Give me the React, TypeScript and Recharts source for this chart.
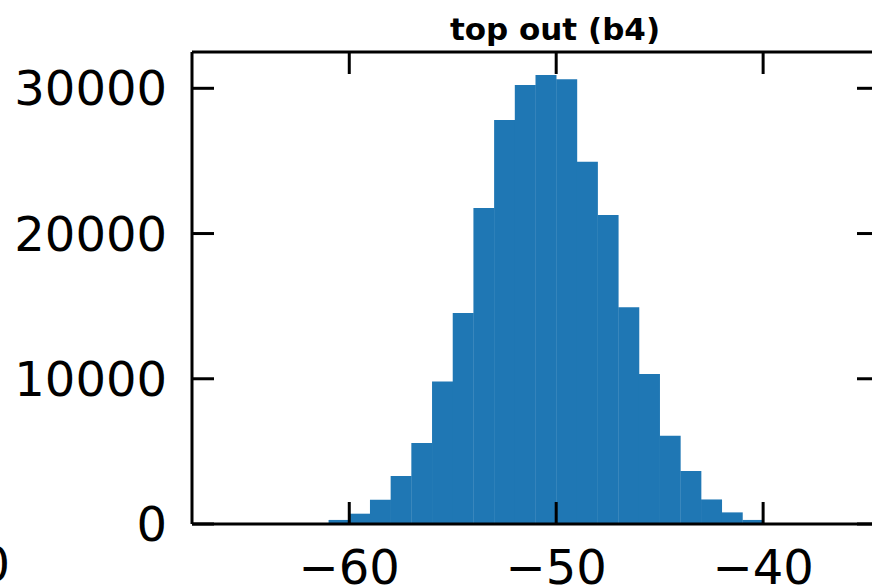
import { BarChart, Bar, XAxis, YAxis } from "recharts";

// histogram bins (1 unit wide), centre of each bin
const binCenters = [
    -60.5, -59.5, -58.5, -57.5, -56.5, -55.5, -54.5, -53.5, -52.5, -51.5, -50.5,
    -49.5, -48.5, -47.5, -46.5, -45.5, -44.5, -43.5, -42.5, -41.5, -40.5,
];
const counts = [
    280, 710, 1670, 3300, 5570, 9810, 14520, 21750, 27820, 30230, 30920,
    30630, 24950, 21270, 14930, 10320, 6080, 3650, 1690, 800, 280,
];
const xTicks = [-60, -50, -40];
const yTicks = [0, 10000, 20000, 30000];
const title = "top out (b4)";

const data = binCenters.map((center, i) => ({ center, count: counts[i] }));

const FONT = "'DejaVu Sans', sans-serif";
const BLUE = "#1f77b4";

function formatX(value: number) {
    return value < 0 ? `\u2212${Math.abs(value)}` : `${value}`;
}

const blank = () => "";

export default function App() {
    const tickStyle = { fontSize: 48, fill: "#000", fontFamily: FONT };
    const lineStyle = { stroke: "#000", strokeWidth: 3 };

    return (
        <div
            style={{
                position: "absolute",
                left: 0,
                top: 0,
                width: 872,
                height: 587,
                overflow: "hidden",
                background: "#fff",
                fontFamily: FONT,
            }}
        >
            <BarChart
                width={900}
                height={587}
                data={data}
                margin={{ top: 51, right: 0, bottom: 0, left: 0 }}
                barCategoryGap={0}
                barGap={0}
            >
                <XAxis
                    xAxisId="bottom"
                    dataKey="center"
                    type="number"
                    domain={[-67.6, -34.4]}
                    allowDataOverflow
                    ticks={xTicks}
                    tickFormatter={formatX}
                    height={63}
                    tickSize={-22}
                    tickMargin={48}
                    axisLine={lineStyle}
                    tickLine={lineStyle}
                    tick={tickStyle}
                />
                <XAxis
                    xAxisId="top"
                    orientation="top"
                    dataKey="center"
                    type="number"
                    domain={[-67.6, -34.4]}
                    allowDataOverflow
                    ticks={xTicks}
                    tickFormatter={blank}
                    height={1}
                    tickSize={-22}
                    axisLine={lineStyle}
                    tickLine={lineStyle}
                    tick={tickStyle}
                />
                <YAxis
                    yAxisId="left"
                    domain={[0, 32500]}
                    allowDataOverflow
                    ticks={yTicks}
                    width={192}
                    tickSize={-22}
                    tickMargin={47}
                    axisLine={lineStyle}
                    tickLine={lineStyle}
                    tick={tickStyle}
                />
                <YAxis
                    yAxisId="right"
                    orientation="right"
                    domain={[0, 32500]}
                    allowDataOverflow
                    ticks={yTicks}
                    tickFormatter={blank}
                    width={21}
                    tickSize={-22}
                    axisLine={lineStyle}
                    tickLine={lineStyle}
                    tick={tickStyle}
                />
                <Bar
                    xAxisId="bottom"
                    yAxisId="left"
                    dataKey="count"
                    fill={BLUE}
                    isAnimationActive={false}
                />
            </BarChart>
            <svg
                width={872}
                height={587}
                style={{ position: "absolute", left: 0, top: 0, pointerEvents: "none" }}
            >
                <text
                    x={555}
                    y={40}
                    textAnchor="middle"
                    fontFamily={FONT}
                    fontWeight="bold"
                    fontSize={31}
                    fill="#000"
                >
                    {title}
                </text>
                {/* clipped label of the neighbouring panel */}
                <text x={10} y={581} textAnchor="end" fontFamily={FONT} fontSize={48} fill="#000">
                    0
                </text>
            </svg>
        </div>
    );
}
